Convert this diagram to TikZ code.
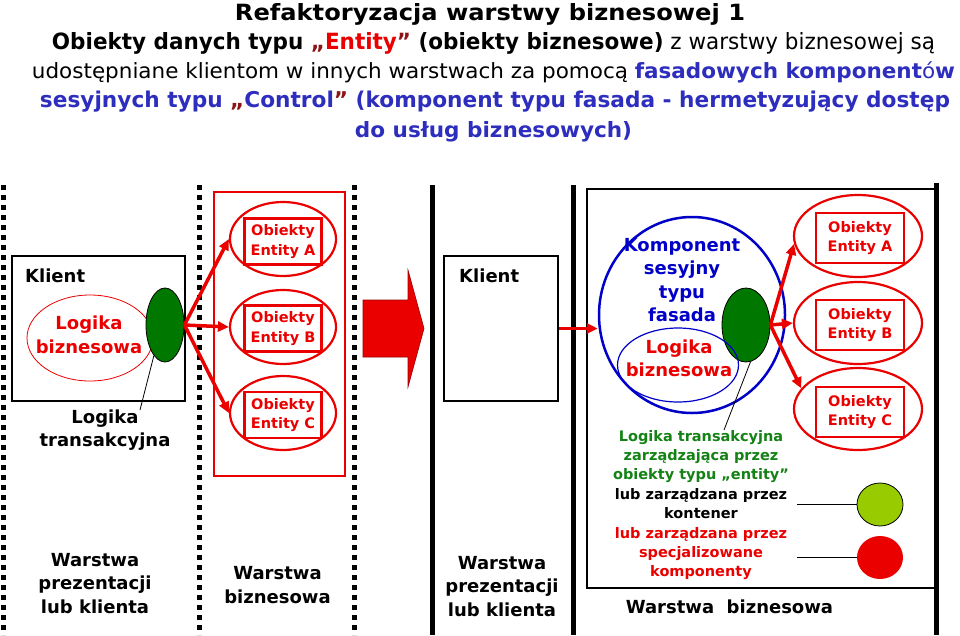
\documentclass[tikz,border=0pt]{standalone}
\usepackage{fontspec}
\setmainfont{DejaVu Sans}
\usetikzlibrary{arrows.meta,shapes.geometric}
\definecolor{tred}{RGB}{235,0,0}
\definecolor{tblue}{RGB}{45,45,190}
\definecolor{kblue}{RGB}{0,0,200}
\definecolor{qmar}{RGB}{140,20,20}
\definecolor{dgreen}{RGB}{0,120,0}
\definecolor{tgreen}{RGB}{20,130,20}
\definecolor{lgreen}{RGB}{153,204,0}
\definecolor{arrowedge}{RGB}{150,0,0}
\tikzset{
  big/.style={font=\bfseries\fontsize{18}{23.5}\selectfont, align=center, inner sep=0pt},
  small/.style={font=\bfseries\fontsize{14.5}{19.4}\selectfont, align=center, inner sep=0pt},
  hdr/.style={inner sep=0pt, anchor=base},
  dotline/.style={line width=5pt, dash pattern=on 5pt off 5pt},
  solidline/.style={line width=5pt},
  redarrow/.style={-{Triangle[length=11pt,width=10pt]}, line width=3.5pt, tred},
  entell/.style={ellipse, draw=tred, line width=2.2pt, inner sep=0pt},
  entbox/.style={rectangle, draw=tred, line width=2.2pt, inner sep=0pt, text=tred, small},
  greenell/.style={ellipse, draw=black, fill=dgreen, line width=0.8pt, inner sep=0pt},
  boxnode/.style={rectangle, draw=black, inner sep=0pt},
}
\begin{document}
\begin{tikzpicture}[x=1pt,y=-1pt]
\useasboundingbox[fill=white] (0,0) rectangle (960,635);

% ---------- header ----------
\node[hdr] (h1) at (490,20) {\resizebox{510pt}{17pt}{\bfseries Refaktoryzacja warstwy biznesowej 1}};
\node[hdr] (h2) at (493.5,49) {\resizebox{883pt}{17pt}{{\bfseries Obiekty danych typu \textcolor{qmar}{„}\textcolor{tred}{Entity}\textcolor{qmar}{”} (obiekty biznesowe)} z warstwy biznesowej są}};
\node[hdr] (h3) at (493.5,78) {\resizebox{923pt}{16.8pt}{udostępniane klientom w innych warstwach za pomocą \textcolor{tblue}{\bfseries fasadowych komponent{\mdseries ó}w}}};
\node[hdr] (h4) at (495,107.5) {\resizebox{910pt}{16.5pt}{\color{tblue}\bfseries sesyjnych typu \textcolor{qmar}{„}Control\textcolor{qmar}{”} (komponent typu fasada - hermetyzujący dostęp}};
\node[hdr] (h5) at (493.5,137) {\resizebox{277pt}{16pt}{\color{tblue}\bfseries do usług biznesowych)}};

% ---------- layer separators ----------
\draw[dotline] (3,185) -- (3,635);
\draw[dotline] (199,185) -- (199,635);
\draw[dotline] (354,185) -- (354,635);
\draw[solidline] (432,185) -- (432,635);
\draw[solidline] (573,185) -- (573,635);
\draw[solidline] (936,183) -- (936,635);

% ---------- left: client ----------
\node[boxnode, line width=1.5pt, minimum width=173pt, minimum height=145pt] (k1) at (98.5,328.5) {};
\node[big, anchor=base west] (k1t) at (25,282) {Klient};
\node[ellipse, draw=tred, line width=0.8pt, minimum width=126pt, minimum height=86pt, inner sep=0pt] (lb1) at (90,338) {};
\node[big, text=tred] (lb1t) at (89,335) {Logika\\biznesowa};
\node[greenell, minimum width=38pt, minimum height=74pt] (g1) at (165,325) {};
\coordinate (lt1p) at (140,410);
\draw[line width=0.8pt] (g1.250) -- (lt1p);
\node[big] (lt1) at (105,430) {Logika\\transakcyjna};
\node[big] (w1) at (95,583.5) {Warstwa\\prezentacji\\lub klienta};

% ---------- left: business layer ----------
\node[rectangle, draw=tred, line width=2pt, minimum width=131pt, minimum height=284pt, inner sep=0pt] (bz) at (279.5,334) {};
\node[entell, minimum width=106pt, minimum height=74pt] (eA) at (283,239) {};
\node[entbox, minimum width=77pt, minimum height=46pt] (rA) at (283,241.5) {Obiekty\\Entity A};
\node[entell, minimum width=106pt, minimum height=74pt] (eB) at (283,327) {};
\node[entbox, minimum width=77pt, minimum height=46pt] (rB) at (283,328.5) {Obiekty\\Entity B};
\node[entell, minimum width=106pt, minimum height=74pt] (eC) at (283,413) {};
\node[entbox, minimum width=77pt, minimum height=46pt] (rC) at (283,415) {Obiekty\\Entity C};
\draw[redarrow] (g1.east) -- (eA.west);
\draw[redarrow] (g1.east) -- (eB.west);
\draw[redarrow] (g1.east) -- (eC.west);
\node[big] (w2) at (277.5,585) {Warstwa\\biznesowa};

% ---------- big transition arrow ----------
\draw[fill=tred, draw=arrowedge, line width=0.6pt]
  (363,300) -- (408,300) -- (408,270) -- (424,328.5) -- (408,387) -- (408,357) -- (363,357) -- cycle;

% ---------- right: client ----------
\node[boxnode, line width=1.5pt, minimum width=114pt, minimum height=145pt] (k2) at (501,328.5) {};
\node[big, anchor=base west] (k2t) at (459,282) {Klient};
\node[big] (w3) at (502,586.5) {Warstwa\\prezentacji\\lub klienta};

% ---------- right: business layer ----------
\node[boxnode, line width=2pt, minimum width=348pt, minimum height=399pt] (rb) at (761,388.5) {};
\node[ellipse, draw=kblue, line width=2.5pt, minimum width=186pt, minimum height=196pt, inner sep=0pt] (fac) at (692,315) {};
\node[big, text=kblue] (fact) at (682,280) {Komponent\\sesyjny\\typu\\fasada};
\node[greenell, minimum width=48pt, minimum height=74pt] (g2) at (746,325) {};
\node[ellipse, draw=kblue, line width=1.2pt, minimum width=121pt, minimum height=74pt, inner sep=0pt] (lb2) at (678,365) {};
\node[big, text=tred] (lb2t) at (679,358.5) {Logika\\biznesowa};
\draw[redarrow, line width=3pt] (k2.east) -- (k2.east -| fac.west);

\node[entell, minimum width=128pt, minimum height=82pt] (eA2) at (858,236) {};
\node[entbox, minimum width=88pt, minimum height=50pt] (rA2) at (860,238) {Obiekty\\Entity A};
\node[entell, minimum width=128pt, minimum height=82pt] (eB2) at (858,323) {};
\node[entbox, minimum width=88pt, minimum height=50pt] (rB2) at (860,325) {Obiekty\\Entity B};
\node[entell, minimum width=128pt, minimum height=82pt] (eC2) at (858,409) {};
\node[entbox, minimum width=88pt, minimum height=50pt] (rC2) at (860,412) {Obiekty\\Entity C};
\draw[redarrow] (g2.east) -- (eA2.187);
\draw[redarrow] (g2.east) -- (eB2.west);
\draw[redarrow] (g2.east) -- (eC2.160);

\coordinate (lt2p) at (724,430);
\draw[line width=0.8pt] (g2.277) -- (lt2p);
\node[small] (lt2) at (701,505) {\textcolor{tgreen}{Logika transakcyjna}\\
  \textcolor{tgreen}{zarządzająca przez}\\
  \textcolor{tgreen}{obiekty typu „entity”}\\
  lub zarządzana przez\\
  kontener\\
  \textcolor{tred}{lub zarządzana przez}\\
  \textcolor{tred}{specjalizowane}\\
  \textcolor{tred}{komponenty}};

\node[ellipse, draw=black, fill=lgreen, line width=0.8pt, minimum width=46pt, minimum height=43pt, inner sep=0pt] (cg) at (880,504.5) {};
\node[ellipse, fill=tred, minimum width=46pt, minimum height=43pt, inner sep=0pt] (cr) at (880,557.5) {};
\coordinate (cgl) at (797,504.5);
\coordinate (crl) at (797,557.5);
\draw[line width=0.8pt] (cgl) -- (cg.west);
\draw[line width=0.8pt] (crl) -- (cr.west);

\node[big] (w4) at (729.5,607) {Warstwa\ \ biznesowa};
\end{tikzpicture}
\end{document}
